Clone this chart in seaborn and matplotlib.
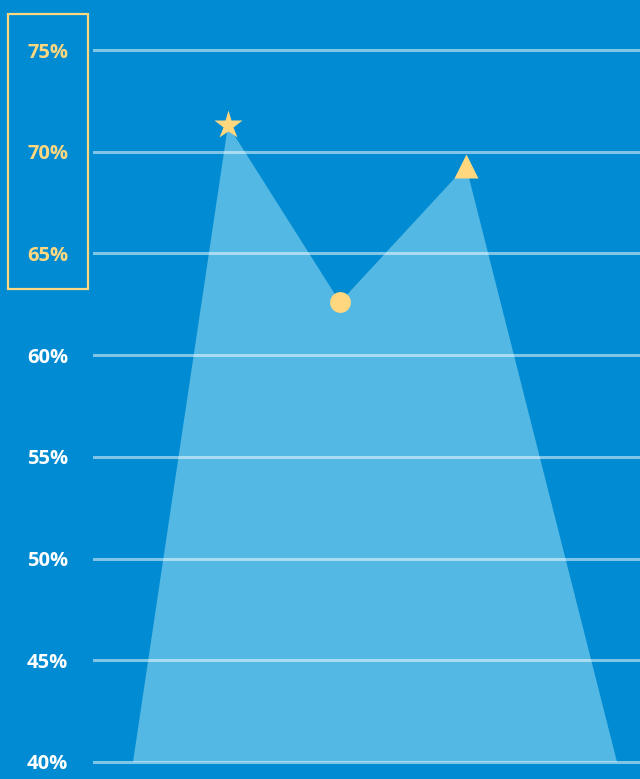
import numpy as np
import pandas as pd
import matplotlib
matplotlib.use('Agg')
import matplotlib.pyplot as plt
import seaborn as sns
from matplotlib.patches import Rectangle

# Данные
x_pos = [0.40, 1.35, 2.47, 3.73, 5.24]
values = [40.0, 71.3, 62.6, 69.3, 40.0]
peak_idx = [1, 2, 3]
peak_markers = ['*', 'o', '^']
peak_sizes = [21, 15, 17]
y_ticks = [40, 45, 50, 55, 60, 65, 70, 75]
tick_labels = [f'{v}%' for v in y_ticks]
highlight = [65, 70, 75]

bg = '#008BD2'
fill_col = '#54B8E4'
yellow = '#FFD77F'

sns.set_theme(style='white', rc={'axes.facecolor': bg, 'figure.facecolor': bg})
plt.rcParams['font.family'] = ['Open Sans', 'DejaVu Sans']

fig = plt.figure(figsize=(6.4, 7.79), dpi=100)
ax = fig.add_axes([93 / 640, 0, 1 - 93 / 640, 1])

df = pd.DataFrame({'x': x_pos, 'y': values})
ax.fill(df['x'], df['y'], color=fill_col, lw=0, zorder=1)

for i, m, s in zip(peak_idx, peak_markers, peak_sizes):
    ax.plot(x_pos[i], values[i], marker=m, ms=s, color=yellow,
            mec='none', ls='none', zorder=5)

ax.set_xlim(0, 5.47)
ax.set_ylim(39.164, 77.458)
ax.set_yticks(y_ticks)
ax.set_yticklabels(tick_labels, fontweight='bold', fontsize=14.5)
ax.set_xticks([])
ax.yaxis.grid(True, color='white', alpha=0.5, lw=2.2)
ax.set_axisbelow(False)
ax.tick_params(axis='y', length=0, pad=18)
for lab, v in zip(ax.get_yticklabels(), y_ticks):
    lab.set_color(yellow if v in highlight else 'white')
sns.despine(ax=ax, left=True, bottom=True, top=True, right=True)

fig.patches.append(Rectangle((8 / 640, 1 - 289 / 779), 80 / 640, 275 / 779,
                             transform=fig.transFigure, fill=False,
                             edgecolor=yellow, lw=1.6))

fig.savefig('out.png', dpi=100, facecolor=bg)
